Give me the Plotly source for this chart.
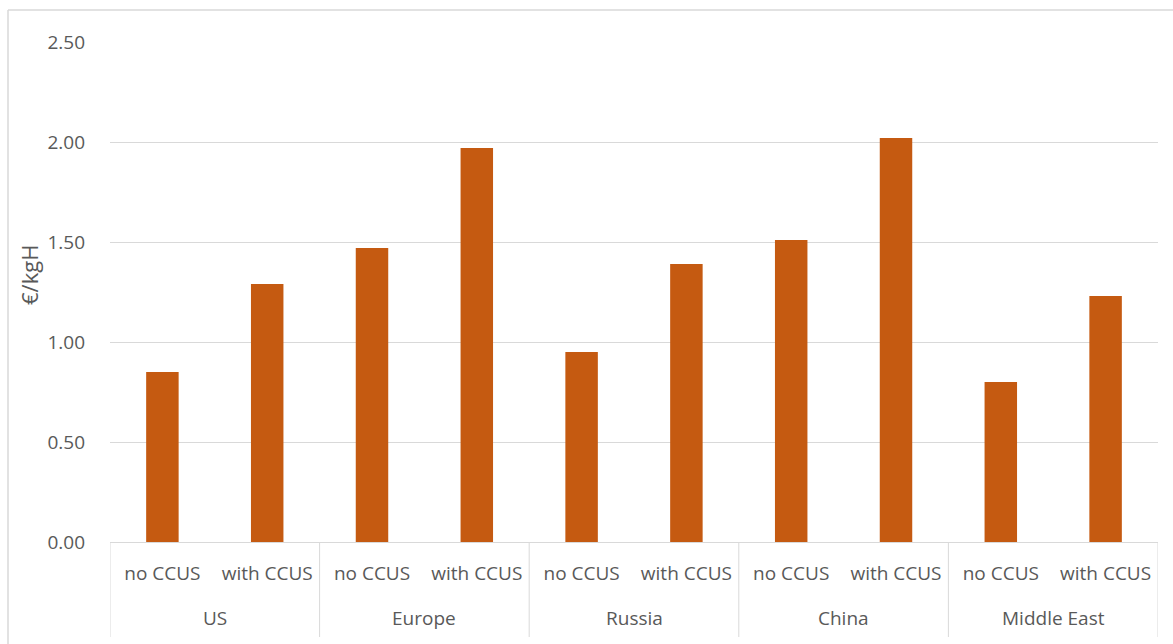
import plotly.graph_objects as go

# Hydrogen production cost by region, with and without carbon capture
regions = ["US", "Europe", "Russia", "China", "Middle East"]
variants = ["no CCUS", "with CCUS"]
cost_no_ccus = [0.85, 1.47, 0.95, 1.51, 0.80]
cost_with_ccus = [1.29, 1.97, 1.39, 2.02, 1.23]
y_ticks = [0.0, 0.5, 1.0, 1.5, 2.0, 2.5]

BAR = "#C55A11"
GRID = "#D9D9D9"
TEXT = "#595959"
FONT = "Open Sans"
FS = 19

# flatten into one bar per (region, variant)
labels, values = [], []
for r, a, b in zip(regions, cost_no_ccus, cost_with_ccus):
    labels += variants
    values += [a, b]
xpos = list(range(len(values)))

fig = go.Figure(go.Bar(x=xpos, y=values, marker_color=BAR, marker_line_width=0, width=0.31))

W, H = 1173, 644
ml, mr, mt, mb = 110, 15, 42, 102
pw, ph = W - ml - mr, H - mt - mb

shapes = []
# vertical dividers between region groups
n = len(variants)
for k in range(len(regions) + 1):
    xb = k * n - 0.5
    shapes.append(dict(type="line", xref="x", yref="paper", x0=xb, x1=xb,
                       y0=0, y1=-(637 - (H - mb)) / ph, line=dict(color=GRID, width=1)))
# chart-area border (top and left)
shapes.append(dict(type="line", xref="paper", yref="paper",
                   x0=(8 - ml) / pw, x1=(W + 5 - ml) / pw,
                   y0=(H - mb - 10) / ph, y1=(H - mb - 10) / ph,
                   line=dict(color=GRID, width=1.5)))
shapes.append(dict(type="line", xref="paper", yref="paper",
                   x0=(8 - ml) / pw, x1=(8 - ml) / pw,
                   y0=(H - mb - 10) / ph, y1=-(mb + 5) / ph,
                   line=dict(color=GRID, width=1.5)))

annotations = []
for k, r in enumerate(regions):
    annotations.append(dict(text=r, x=k * n + (n - 1) / 2, xref="x",
                            y=-(618 - (H - mb)) / ph, yref="paper",
                            showarrow=False, yanchor="middle",
                            font=dict(family=FONT, size=FS, color=TEXT)))
annotations.append(dict(text="€/kgH", textangle=-90, x=(29 - ml) / pw, xref="paper",
                        y=(H - mb - 275) / ph, yref="paper", showarrow=False,
                        xanchor="center", yanchor="middle",
                        font=dict(family=FONT, size=22, color=TEXT)))

fig.update_layout(
    width=W, height=H,
    margin=dict(l=ml, r=mr, t=mt, b=mb),
    paper_bgcolor="white", plot_bgcolor="white",
    showlegend=False,
    shapes=shapes, annotations=annotations,
    xaxis=dict(range=[-0.5, len(values) - 0.5], tickvals=xpos, ticktext=labels,
               showgrid=False, zeroline=False, showline=True, linecolor=GRID,
               ticks="", ticklabelstandoff=14,
               tickfont=dict(family=FONT, size=FS, color=TEXT)),
    yaxis=dict(range=[0, 2.5], tickvals=y_ticks, ticktext=[f"{v:.2f}" for v in y_ticks],
               showgrid=True, gridcolor=GRID, gridwidth=1, zeroline=False,
               showline=False, ticks="", ticklabelstandoff=24,
               tickfont=dict(family=FONT, size=FS, color=TEXT)),
)

fig.write_html("out.html")
